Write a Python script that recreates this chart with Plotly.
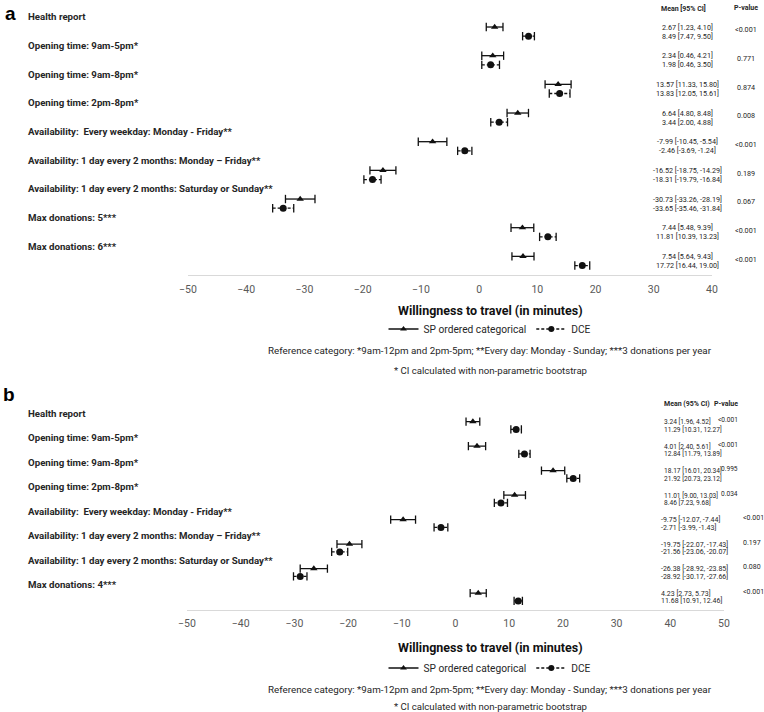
import plotly.graph_objects as go

W, H = 764, 712
FONT = "Roboto, Liberation Sans, sans-serif"

# ---------------- Panel a data ----------------
labels_a = [
    "Health report",
    "Opening time: 9am-5pm*",
    "Opening time: 9am-8pm*",
    "Opening time: 2pm-8pm*",
    "Availability:  Every weekday: Monday - Friday**",
    "Availability: 1 day every 2 months: Monday \u2013 Friday**",
    "Availability: 1 day every 2 months: Saturday or Sunday**",
    "Max donations: 5***",
    "Max donations: 6***",
]
sp_a_mean = [2.67, 2.34, 13.57, 6.64, -7.99, -16.52, -30.73, 7.44, 7.54]
sp_a_lo = [1.23, 0.46, 11.33, 4.80, -10.45, -18.75, -33.26, 5.48, 5.64]
sp_a_hi = [4.10, 4.21, 15.80, 8.48, -5.54, -14.29, -28.19, 9.39, 9.43]
dce_a_mean = [8.49, 1.98, 13.83, 3.44, -2.46, -18.31, -33.65, 11.81, 17.72]
dce_a_lo = [7.47, 0.46, 12.05, 2.00, -3.69, -19.79, -35.46, 10.39, 16.44]
dce_a_hi = [9.50, 3.50, 15.61, 4.88, -1.24, -16.84, -31.84, 13.23, 19.00]
pval_a = ["<0.001", "0.771", "0.874", "0.008", "<0.001", "0.189", "0.067", "<0.001", "<0.001"]
ticks_a = [-50, -40, -30, -20, -10, 0, 10, 20, 30, 40]

# ---------------- Panel b data ----------------
labels_b = [
    "Health report",
    "Opening time: 9am-5pm*",
    "Opening time: 9am-8pm*",
    "Opening time: 2pm-8pm*",
    "Availability:  Every weekday: Monday - Friday**",
    "Availability: 1 day every 2 months: Monday \u2013 Friday**",
    "Availability: 1 day every 2 months: Saturday or Sunday**",
    "Max donations: 4***",
]
sp_b_mean = [3.24, 4.01, 18.17, 11.01, -9.75, -19.75, -26.38, 4.23]
sp_b_lo = [1.96, 2.40, 16.01, 9.00, -12.07, -22.07, -28.92, 2.73]
sp_b_hi = [4.52, 5.61, 20.34, 13.03, -7.44, -17.43, -23.85, 5.73]
dce_b_mean = [11.29, 12.84, 21.92, 8.46, -2.71, -21.56, -28.92, 11.68]
dce_b_lo = [10.31, 11.79, 20.73, 7.23, -3.99, -23.06, -30.17, 10.91]
dce_b_hi = [12.27, 13.89, 23.12, 9.68, -1.43, -20.07, -27.66, 12.46]
pval_b = ["<0.001", "<0.001", "0.995", "0.034", "<0.001", "0.197", "0.080", "<0.001"]
ticks_b = [-50, -40, -30, -20, -10, 0, 10, 20, 30, 40, 50]

series_names = ["SP ordered categorical", "DCE"]
axis_title = "Willingness to travel (in minutes)"
ref_note = ("Reference category: *9am-12pm and 2pm-5pm; **Every day: Monday - Sunday; "
            "***3 donations per year")
ci_note = "* CI calculated with non-parametric bootstrap"

SP_OFF, DCE_OFF = 0.35, 0.67
INK = "#111111"


def px(x):
    return x / W


def py(y):
    return 1 - y / H


fig = go.Figure()


def add_ci(lo, hi, off, dash, xa, ya):
    xs, ys = [], []
    for i, (l, h) in enumerate(zip(lo, hi)):
        xs += [l, h, None]
        ys += [i + off, i + off, None]
    fig.add_trace(go.Scatter(
        x=xs, y=ys, xaxis=xa, yaxis=ya, mode="lines+markers",
        line=dict(color=INK, width=1.3, dash=dash),
        marker=dict(symbol="line-ns", size=6, line=dict(color=INK, width=1.3)),
        showlegend=False, hoverinfo="skip"))


def add_pts(mean, off, symbol, size, xa, ya):
    fig.add_trace(go.Scatter(
        x=mean, y=[i + off for i in range(len(mean))], xaxis=xa, yaxis=ya,
        mode="markers", marker=dict(symbol=symbol, size=size, color=INK),
        showlegend=False))


for (spl, sph, spm, dl, dh, dm, xa, ya) in [
    (sp_a_lo, sp_a_hi, sp_a_mean, dce_a_lo, dce_a_hi, dce_a_mean, "x", "y"),
    (sp_b_lo, sp_b_hi, sp_b_mean, dce_b_lo, dce_b_hi, dce_b_mean, "x2", "y2"),
]:
    add_ci(spl, sph, SP_OFF, "solid", xa, ya)
    add_ci(dl, dh, DCE_OFF, "3px,2px", xa, ya)
    add_pts(spm, SP_OFF, "triangle-up", 6.5, xa, ya)
    add_pts(dm, DCE_OFF, "circle", 7, xa, ya)

# legend entries
for lg, xa, ya in [("legend", "x", "y"), ("legend2", "x2", "y2")]:
    fig.add_trace(go.Scatter(
        x=[None], y=[None], xaxis=xa, yaxis=ya, mode="lines+markers", name=series_names[0],
        line=dict(color=INK, width=1.3), marker=dict(symbol="triangle-up", size=6, color=INK),
        legend=lg))
    fig.add_trace(go.Scatter(
        x=[None], y=[None], xaxis=xa, yaxis=ya, mode="lines+markers", name=series_names[1],
        line=dict(color=INK, width=1.3, dash="3px,2px"),
        marker=dict(symbol="circle", size=6, color=INK),
        legend=lg))

ann = []
LBL = dict(family=FONT, size=9.7, color="#262626")
VAL = dict(family=FONT, size=7.2, color="#262626")
VAL_B1 = dict(family=FONT, size=6.6, color="#262626")
VAL_B2 = dict(family=FONT, size=7.0, color="#262626")
HDR = dict(family=FONT, size=7, color="#262626")


def fmt(m, l, h):
    return f"{m:.2f} [{l:.2f}, {h:.2f}]"


# panel a annotations
ann.append(dict(text="<b>a</b>", x=px(3), y=py(14), xref="paper", yref="paper", xanchor="left",
                yanchor="middle", showarrow=False, font=dict(family="Liberation Sans, Arial", size=19, color="#000")))
for i, lab in enumerate(labels_a):
    ann.append(dict(text=f"<b>{lab}</b>", x=px(26), y=i, xref="paper", yref="y", xanchor="left",
                    yanchor="middle", showarrow=False, font=LBL))
    ann.append(dict(text=fmt(sp_a_mean[i], sp_a_lo[i], sp_a_hi[i]), x=px(687), y=i + SP_OFF, xref="paper",
                    yref="y", xanchor="center", yanchor="middle", showarrow=False, font=VAL))
    ann.append(dict(text=fmt(dce_a_mean[i], dce_a_lo[i], dce_a_hi[i]), x=px(687), y=i + DCE_OFF, xref="paper",
                    yref="y", xanchor="center", yanchor="middle", showarrow=False, font=VAL))
    ann.append(dict(text=pval_a[i].replace("<", "&lt;"), x=px(746), y=i + 0.45, xref="paper", yref="y",
                    xanchor="center", yanchor="middle", showarrow=False, font=VAL))
ann.append(dict(text="<b>Mean [95% CI]</b>", x=px(683), y=py(8), xref="paper", yref="paper", xanchor="center",
                yanchor="middle", showarrow=False, font=HDR))
ann.append(dict(text="<b>P-value</b>", x=px(746), y=py(8), xref="paper", yref="paper", xanchor="center",
                yanchor="middle", showarrow=False, font=HDR))

# panel b annotations
ann.append(dict(text="<b>b</b>", x=px(1), y=py(394), xref="paper", yref="paper", xanchor="left",
                yanchor="middle", showarrow=False, font=dict(family="Liberation Sans, Arial", size=19, color="#000")))
for i, lab in enumerate(labels_b):
    ann.append(dict(text=f"<b>{lab}</b>", x=px(26), y=i, xref="paper", yref="y2", xanchor="left",
                    yanchor="middle", showarrow=False, font=LBL))
    upper = i < 4
    vx = 662 if upper else 659
    vf = VAL_B1 if upper else VAL_B2
    ann.append(dict(text=fmt(sp_b_mean[i], sp_b_lo[i], sp_b_hi[i]), x=px(vx), y=i + SP_OFF, xref="paper",
                    yref="y2", xanchor="left", yanchor="middle", showarrow=False, font=vf))
    ann.append(dict(text=fmt(dce_b_mean[i], dce_b_lo[i], dce_b_hi[i]), x=px(vx), y=i + DCE_OFF, xref="paper",
                    yref="y2", xanchor="left", yanchor="middle", showarrow=False, font=vf))
    if upper:
        ann.append(dict(text=pval_b[i].replace("<", "&lt;"), x=px(740), y=i + 0.3, xref="paper", yref="y2",
                        xanchor="right", yanchor="middle", showarrow=False, font=VAL_B1))
    else:
        ann.append(dict(text=pval_b[i].replace("<", "&lt;"), x=px(741), y=i + 0.3, xref="paper", yref="y2",
                        xanchor="left", yanchor="middle", showarrow=False, font=VAL_B2))
ann.append(dict(text="<b>Mean (95% CI)</b>", x=px(662), y=py(404), xref="paper", yref="paper", xanchor="left",
                yanchor="middle", showarrow=False, font=HDR))
ann.append(dict(text="<b>P-value</b>", x=px(740), y=py(404), xref="paper", yref="paper", xanchor="right",
                yanchor="middle", showarrow=False, font=HDR))

# bottom texts
for (t_y, r_y, n_y) in [(310, 350, 370), (647, 689, 706)]:
    ann.append(dict(text=f"<b>{axis_title}</b>", x=px(490), y=py(t_y), xref="paper", yref="paper",
                    xanchor="center", yanchor="middle", showarrow=False,
                    font=dict(family=FONT, size=12.5, color=INK)))
    ann.append(dict(text=ref_note, x=px(490), y=py(r_y), xref="paper", yref="paper",
                    xanchor="center", yanchor="middle", showarrow=False,
                    font=dict(family=FONT, size=9.8, color="#262626")))
    ann.append(dict(text=ci_note, x=px(490), y=py(n_y), xref="paper", yref="paper",
                    xanchor="center", yanchor="middle", showarrow=False,
                    font=dict(family=FONT, size=9.6, color="#262626")))

xcommon = dict(showline=True, linecolor="#d9d9d9", linewidth=1, showgrid=False, zeroline=False,
               ticks="", tickfont=dict(family=FONT, size=10.5, color="#595959"), ticklabelstandoff=4,
               fixedrange=True)
ycommon = dict(visible=False, showgrid=False, zeroline=False, fixedrange=True)

legcommon = dict(orientation="h", xanchor="center", yanchor="middle", bgcolor="rgba(0,0,0,0)",
                 font=dict(family=FONT, size=10.2, color="#262626"), itemwidth=30,
                 tracegroupgap=0, itemclick=False)

fig.update_layout(
    width=W, height=H, margin=dict(l=0, r=0, t=0, b=0, autoexpand=False),
    paper_bgcolor="white", plot_bgcolor="white",
    xaxis=dict(domain=[px(188), px(712)], range=[-50, 40], tickvals=ticks_a, anchor="y", **xcommon),
    yaxis=dict(domain=[py(275), 1], range=[9.0, -0.592], anchor="x", **ycommon),
    xaxis2=dict(domain=[px(187), px(724)], range=[-50, 50], tickvals=ticks_b, anchor="y2", **xcommon),
    yaxis2=dict(domain=[py(609.5), py(395)], range=[8.02, -0.735], anchor="x2", **ycommon),
    legend=dict(x=px(490), y=py(329), **legcommon),
    legend2=dict(x=px(490), y=py(668), **legcommon),
    annotations=ann,
    showlegend=True,
)

fig.write_html(
    "out.html",
    config={"displayModeBar": False},
    post_script="document.body.style.margin='0';document.body.style.overflow='hidden';",
)
